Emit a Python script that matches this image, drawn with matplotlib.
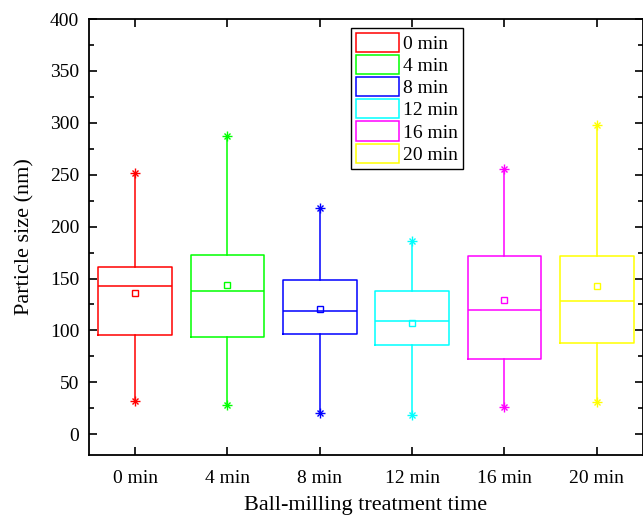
import matplotlib
matplotlib.use('Agg')
import matplotlib.pyplot as plt
from matplotlib.patches import Patch

plt.rcParams['font.family'] = ['Liberation Serif', 'DejaVu Serif']

# Box plot summary values (nm)
labels = ['0 min', '4 min', '8 min', '12 min', '16 min', '20 min']
colors = ['#ff0000', '#00ff00', '#0000ff', '#00ffff', '#ff00ff', '#ffff00']
q1 = [96, 94, 97, 86, 72.5, 88]
med = [143, 138, 118.5, 109.5, 120, 128]
q3 = [161, 173, 149, 138, 172, 172]
mean = [136.5, 143.5, 120.5, 107, 129.5, 143]
vmin = [32, 28, 20, 18.5, 26.5, 31]
vmax = [252, 287, 218, 186, 256, 298]

fig = plt.figure(figsize=(6.43, 5.17), dpi=100)
ax = fig.add_axes([0.1384, 0.1199, 0.8616, 0.8433])

pos = list(range(1, len(labels) + 1))
for i, c in enumerate(colors):
    st = [dict(med=med[i], q1=q1[i], q3=q3[i], whislo=vmin[i], whishi=vmax[i],
               mean=mean[i], fliers=[])]
    ax.bxp(st, positions=[pos[i]], widths=0.8, showmeans=True, showcaps=False,
           boxprops=dict(color=c, lw=1.1), medianprops=dict(color=c, lw=1.1),
           whiskerprops=dict(color=c, lw=1.1),
           meanprops=dict(marker='s', markerfacecolor='none', markeredgecolor=c,
                          markersize=5, markeredgewidth=1))
    ax.plot([pos[i], pos[i]], [vmin[i], vmax[i]], ls='none', marker='+',
            color=c, ms=7, mew=1)
    ax.plot([pos[i], pos[i]], [vmin[i], vmax[i]], ls='none', marker='x',
            color=c, ms=5, mew=1)

ax.set_xlim(0.5, 6.5)
ax.set_ylim(-20, 400)
ax.set_xticks(pos)
ax.set_xticklabels(labels)
ax.set_yticks(range(0, 401, 50))
ax.set_yticks(range(25, 400, 50), minor=True)
ax.tick_params(which='both', direction='in', top=True, right=True, labelsize=14,
               width=1.2)
ax.tick_params(which='major', length=6)
ax.tick_params(axis='x', which='major', pad=11)
ax.tick_params(axis='y', which='major', pad=7)
ax.tick_params(which='minor', length=3.5)
ax.tick_params(axis='x', which='minor', bottom=False, top=False)
for s in ax.spines.values():
    s.set_linewidth(1.3)

ax.set_ylabel('Particle size (nm)', fontsize=16, labelpad=11)
ax.set_xlabel('Ball-milling treatment time', fontsize=16, labelpad=6)

handles = [Patch(facecolor='white', edgecolor=c, lw=1.1) for c in colors]
leg = ax.legend(handles, labels, loc='upper left', bbox_to_anchor=(0.473, 0.98),
                borderaxespad=0, fontsize=14, handlelength=2.2, handleheight=1.15,
                labelspacing=0.1, handletextpad=0.22, borderpad=0.25,
                fancybox=False, edgecolor='black', framealpha=1)
leg.get_frame().set_linewidth(1.0)

fig.savefig('out.png', dpi=100)
